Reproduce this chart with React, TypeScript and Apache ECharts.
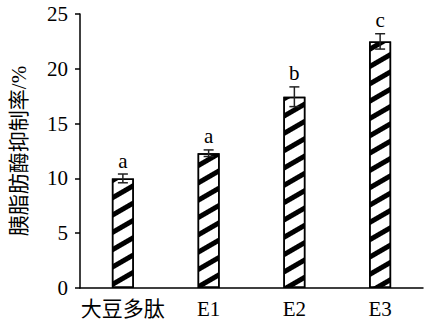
import React, { useEffect, useRef } from "react";
import * as echarts from "echarts";

const categories = ["大豆多肽", "E1", "E2", "E3"];
const values = [10.0, 12.3, 17.45, 22.5];
const errors = [0.4, 0.3, 0.9, 0.7];
const letters = ["a", "a", "b", "c"];
const yTicks = { min: 0, max: 25, interval: 5 };

const serif = "'Liberation Serif', 'Times New Roman', serif";
const cjk = "'Liberation Serif', 'Noto Sans CJK SC', serif";

export default function App() {
  const ref = useRef<HTMLDivElement>(null);
  useEffect(() => {
    const chart = echarts.init(ref.current!, null, { renderer: "svg" });
    chart.setOption({
      animation: false,
      backgroundColor: "#fff",
      grid: { left: 71, right: 2, top: 14, bottom: 40 },
      xAxis: {
        type: "category",
        data: categories,
        axisLine: { lineStyle: { color: "#000", width: 1.5 } },
        axisTick: { show: false },
        axisLabel: { color: "#000", fontSize: 21, fontFamily: cjk, margin: 10, interval: 0 },
      },
      yAxis: {
        type: "value",
        min: yTicks.min,
        max: yTicks.max,
        interval: yTicks.interval,
        name: "胰脂肪酶抑制率/%",
        nameLocation: "middle",
        nameRotate: 90,
        nameGap: 51,
        nameTextStyle: { color: "#000", fontSize: 21, fontFamily: cjk },
        axisLine: { show: true, lineStyle: { color: "#000", width: 1.5 } },
        axisTick: { show: true, length: 5, inside: false, lineStyle: { color: "#000", width: 1.5 } },
        splitLine: { show: false },
        axisLabel: { color: "#000", fontSize: 21, fontFamily: serif, margin: 12 },
      },
      series: [
        {
          type: "bar",
          data: values,
          barWidth: 22,
          itemStyle: {
            color: "#fff",
            borderColor: "#000",
            borderWidth: 1.5,
            decal: {
              symbol: "rect",
              color: "#000",
              backgroundColor: "#fff",
              dashArrayX: [1, 0],
              dashArrayY: [5, 10],
              rotation: -Math.PI / 6,
              symbolSize: 1,
            },
          },
          z: 2,
        },
        {
          type: "custom",
          z: 5,
          data: values.map((v, i) => [i, v, errors[i], letters[i]]),
          renderItem: (params: any, api: any) => {
            const i = api.value(0);
            const v = api.value(1);
            const e = api.value(2);
            const top = api.coord([i, v + e]);
            const bot = api.coord([i, v - e]);
            const x = top[0];
            const cap = 5;
            const style = { stroke: "#222", lineWidth: 1.5 };
            return {
              type: "group",
              children: [
                { type: "line", shape: { x1: x, y1: top[1], x2: x, y2: bot[1] }, style },
                { type: "line", shape: { x1: x - cap, y1: top[1], x2: x + cap, y2: top[1] }, style },
                { type: "line", shape: { x1: x - cap, y1: bot[1], x2: x + cap, y2: bot[1] }, style },
                {
                  type: "text",
                  style: {
                    text: letters[params.dataIndex],
                    x: x,
                    y: top[1] - 3,
                    textAlign: "center",
                    textVerticalAlign: "bottom",
                    fill: "#000",
                    fontSize: 21,
                    fontFamily: serif,
                  },
                },
              ],
            };
          },
        },
      ],
    });
    return () => chart.dispose();
  }, []);
  return <div ref={ref} style={{ width: 425, height: 328, position: "absolute", left: 0, top: 0 }} />;
}
